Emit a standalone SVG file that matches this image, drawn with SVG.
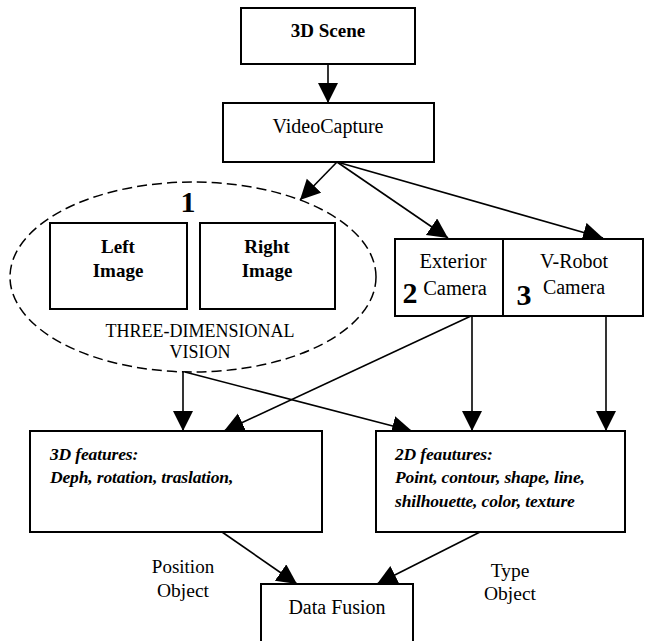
<svg xmlns="http://www.w3.org/2000/svg" width="645" height="641" viewBox="0 0 645 641">
<style>
.box{fill:#fff;stroke:#000;stroke-width:2}
.t{font-family:"Liberation Serif","Times New Roman",serif;fill:#000;text-anchor:middle}
.b{font-weight:bold}
.bi{font-weight:bold;font-style:italic;text-anchor:start;font-size:17.5px;letter-spacing:-0.15px}
.big{font-weight:bold;font-size:30px}
.c{stroke:#000;stroke-width:1.6;fill:none;marker-end:url(#ah)}
</style>
<defs>
<marker id="ah" markerUnits="userSpaceOnUse" markerWidth="21" markerHeight="21" refX="20" refY="10" orient="auto">
<path d="M0,0 L20,10 L0,20 z" fill="#000"/>
</marker>
</defs>
<rect width="645" height="641" fill="#fff"/>
<g id="connectors">
<line class="c" x1="328" y1="64" x2="328" y2="103"/>
<line class="c" x1="337" y1="162" x2="300" y2="200"/>
<line class="c" x1="337" y1="162" x2="448" y2="238"/>
<line class="c" x1="337" y1="162" x2="603" y2="238"/>
<line class="c" x1="183" y1="372" x2="183" y2="431"/>
<line class="c" x1="185" y1="372" x2="412" y2="431"/>
<line class="c" x1="471" y1="316" x2="224" y2="431"/>
<line class="c" x1="472" y1="316" x2="472" y2="431"/>
<line class="c" x1="606" y1="316" x2="606" y2="431"/>
<line class="c" x1="222" y1="532" x2="297" y2="584"/>
<line class="c" x1="480" y1="532" x2="377" y2="584"/>
</g>
<g id="scene">
<rect class="box" x="241" y="8" width="174" height="56"/>
<text class="t b" x="328" y="37" font-size="19">3D Scene</text>
</g>
<g id="videocapture">
<rect class="box" x="223" y="103" width="211" height="59"/>
<text class="t" x="328" y="133" font-size="20">VideoCapture</text>
</g>
<g id="vision">
<ellipse cx="193" cy="277" rx="183" ry="95" fill="none" stroke="#000" stroke-width="1.5" stroke-dasharray="10,5"/>
<text class="t big" x="188" y="212">1</text>
<text class="t" x="200" y="337" font-size="18">THREE-DIMENSIONAL</text>
<text class="t" x="200" y="358" font-size="18">VISION</text>
</g>
<g id="left-image">
<rect class="box" x="50" y="223" width="137" height="86"/>
<text class="t b" x="118" y="253" font-size="19">Left</text>
<text class="t b" x="118" y="277" font-size="19">Image</text>
</g>
<g id="right-image">
<rect class="box" x="200" y="223" width="135" height="86"/>
<text class="t b" x="267" y="253" font-size="19">Right</text>
<text class="t b" x="267" y="277" font-size="19">Image</text>
</g>
<g id="exterior-camera">
<rect class="box" x="395" y="239" width="108" height="77"/>
<text class="t" x="453" y="268" font-size="20.5">Exterior</text>
<text class="t" x="455" y="295" font-size="20.5">Camera</text>
<text class="t big" x="410" y="303">2</text>
</g>
<g id="vrobot-camera">
<rect class="box" x="503" y="239" width="140" height="77"/>
<text class="t" x="574" y="268" font-size="20">V-Robot</text>
<text class="t" x="574" y="294" font-size="20">Camera</text>
<text class="t big" x="524" y="305">3</text>
</g>
<g id="features-3d">
<rect class="box" x="30" y="431" width="292" height="101"/>
<text class="t bi" x="50" y="460">3D features:</text>
<text class="t bi" x="50" y="483">Deph, rotation, traslation,</text>
</g>
<g id="features-2d">
<rect class="box" x="376" y="431" width="249" height="101"/>
<text class="t bi" x="395" y="460">2D feautures:</text>
<text class="t bi" x="395" y="483">Point, contour, shape, line,</text>
<text class="t bi" x="395" y="507">shilhouette, color, texture</text>
</g>
<g id="data-fusion">
<rect class="box" x="261" y="584" width="152" height="70"/>
<text class="t" x="337" y="614" font-size="20">Data Fusion</text>
</g>
<g id="labels">
<text class="t" x="183" y="573" font-size="19">Position</text>
<text class="t" x="183" y="597" font-size="19.5">Object</text>
<text class="t" x="510" y="577" font-size="19.5">Type</text>
<text class="t" x="510" y="600" font-size="19.5">Object</text>
</g>
</svg>
